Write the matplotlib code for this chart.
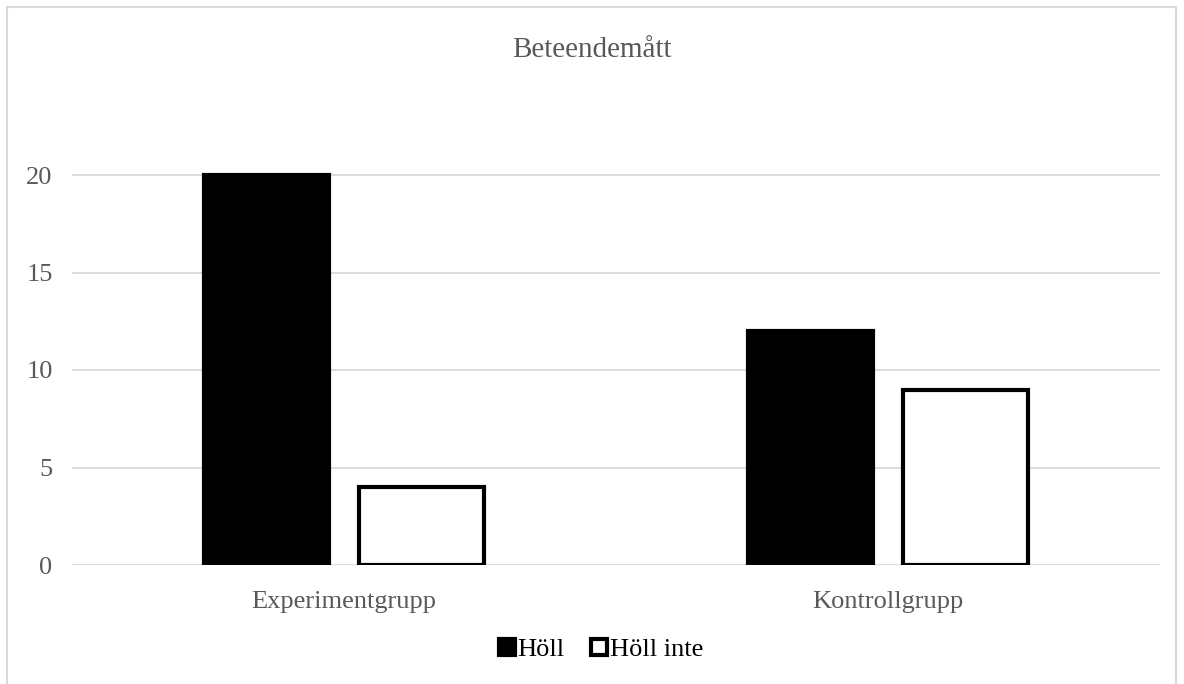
import matplotlib.pyplot as plt
from matplotlib.patches import Rectangle

plt.rcParams["font.family"] = ["Liberation Serif", "DejaVu Serif"]

groups = ["Experimentgrupp", "Kontrollgrupp"]
holl = [20, 12]
holl_inte = [4, 9]
yticks = [0, 5, 10, 15, 20]

fig = plt.figure(figsize=(11.84, 6.84), dpi=100)
ax = fig.add_axes([72 / 1184, 1 - 565 / 684, 1088 / 1184, 415 / 684])

x = range(len(groups))
width = 0.23
off = 0.1425

ax.bar([i - off for i in x], holl, width, color="black", edgecolor="black",
       linewidth=3, label="Höll", zorder=3)
ax.bar([i + off for i in x], holl_inte, width, color="white", edgecolor="black",
       linewidth=3, label="Höll inte", zorder=3)

ax.set_xlim(-0.5, 1.5)
ax.set_ylim(0, 415 / 19.5)
ax.set_yticks(yticks)
ax.set_xticks(list(x))
ax.set_xticklabels(groups)
ax.yaxis.grid(True, color="#d9d9d9", linewidth=1.3, zorder=0)
ax.tick_params(length=0, labelsize=19, colors="#595959")
ax.tick_params(axis="x", pad=19)
ax.tick_params(axis="y", pad=14)
for s in ax.spines.values():
    s.set_visible(False)

fig.text(592 / 1184, 1 - 50 / 684, "Beteendemått", ha="center", va="center",
         fontsize=21, color="#595959")

fig.legend(loc="center", bbox_to_anchor=(601 / 1184, 1 - 650 / 684), ncol=2,
           frameon=False, fontsize=19, handlelength=0.6, handleheight=0.6,
           handletextpad=0.1, columnspacing=1.0)

fig.patches.append(Rectangle((7 / 1184, -0.01), 1169 / 1184, 1 - 7 / 684 + 0.01,
                             transform=fig.transFigure, fill=False,
                             edgecolor="#d9d9d9", linewidth=1.5))

fig.savefig("out.png")
